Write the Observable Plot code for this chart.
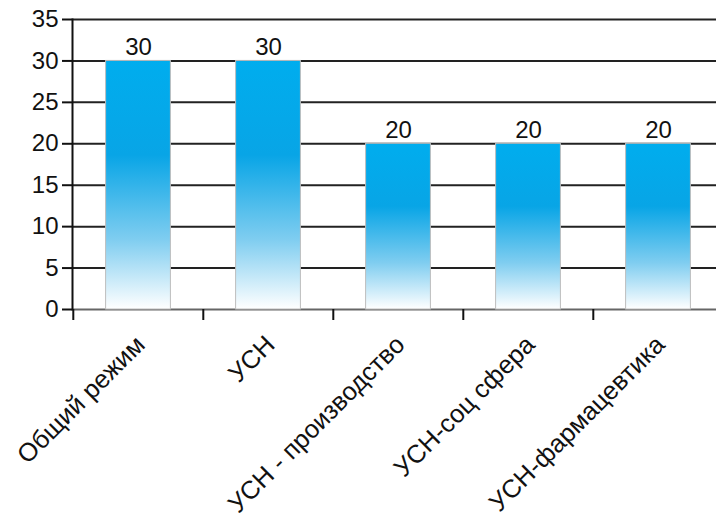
<!DOCTYPE html>
<html><head><meta charset="utf-8">
<script src="https://cdn.jsdelivr.net/npm/d3@7"></script>
<script src="https://cdn.jsdelivr.net/npm/@observablehq/plot@0.6"></script>
<style>body{margin:0;overflow:hidden;background:#fff}</style>
</head><body><div id="chart"></div>
<script>
const categories = ["Общий режим","УСН","УСН - производство","УСН-соц сфера","УСН-фармацевтика"];
const values = [30,30,20,20,20];
const yTicks = [0,5,10,15,20,25,30,35];
const data = categories.map((c,i)=>({cat:c, value: values[i]}));
const W=716,H=520, mL=72, mR=-8, mT=19, mB=211;
const bw = (W-mL-mR)/categories.length;
const font = "'Liberation Sans', Arial, sans-serif";
const plot = Plot.plot({
 width: W, height: H, marginLeft: mL, marginRight: mR, marginTop: mT, marginBottom: mB,
 style: {fontFamily: font, background: "#fff", color: "#111"},
 x: {domain: categories, padding: 0, axis: null},
 y: {domain: [0,35], axis: null},
 marks: [
  Plot.gridY(yTicks.filter(t=>t>0), {stroke:"#222", strokeOpacity:1, strokeWidth:2}),
  Plot.ruleY([0], {stroke:"#666", strokeWidth:2}),
  Plot.barY(data, {x:"cat", y:"value", fill:"url(#barGrad)", stroke:"#bdbdbd", strokeWidth:1, insetLeft: bw*0.25, insetRight: bw*0.25}),
  Plot.frame({anchor:"left", stroke:"#111", strokeWidth:2}),
  Plot.axisY({ticks:yTicks, tickSize:10, tickPadding:4, fontSize:24, strokeWidth:2, label:null, anchor:"left"}),
  Plot.axisX({tickSize:11, tickFormat: ()=>"", dx:-bw/2, strokeWidth:2, label:null}),
  Plot.text(data, {x:"cat", y:"value", text: d=>String(d.value), dy:-6, lineAnchor:"bottom", fontSize:24, fill:"#111"}),
  Plot.text(data, {x:"cat", y:d=>0, text:"cat", rotate:-45, textAnchor:"end", lineAnchor:"middle", dx:2, dy:31, fontSize:25.5, fill:"#111"})
 ]
});
const ns = "http://www.w3.org/2000/svg";
const defs = document.createElementNS(ns, "defs");
defs.innerHTML = '<linearGradient id="barGrad" x1="0" y1="0" x2="0" y2="1">' +
 '<stop offset="0" stop-color="#00adee"/>' +
 '<stop offset="0.38" stop-color="#08a5e6"/>' +
 '<stop offset="0.72" stop-color="#7fcdf0"/>' +
 '<stop offset="1" stop-color="#ffffff"/></linearGradient>';
plot.insertBefore(defs, plot.firstChild);
document.getElementById("chart").appendChild(plot);
</script></body></html>
